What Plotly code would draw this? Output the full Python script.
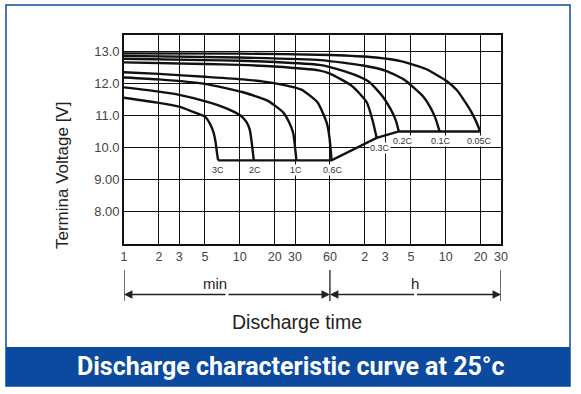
import math
import plotly.graph_objects as go

# ---------------- data ----------------
rate_labels = ["3C", "2C", "1C", "0.6C", "0.3C", "0.2C", "0.1C", "0.05C"]

# discharge time in minutes, terminal voltage in V
t_3C = [1, 2, 3, 3.94, 5.0, 5.5, 5.96, 6.2, 6.36, 6.5]
v_3C = [11.55, 11.39, 11.27, 11.11, 10.96, 10.75, 10.44, 10.13, 9.82, 9.6]

t_2C = [1, 2, 3, 5.15, 7.66, 10, 11.4, 12.2, 12.7, 13.2]
v_2C = [11.87, 11.74, 11.64, 11.43, 11.22, 11.01, 10.8, 10.55, 10.13, 9.6]

t_1C = [1, 2, 5, 10.7, 17.5, 23.6, 26.5, 28.9, 30.8]
v_1C = [12.18, 12.12, 11.98, 11.72, 11.45, 11.1, 10.8, 10.45, 9.6]

t_06C = [1, 2, 5, 10.7, 18.5, 34, 47, 56.5, 59.5, 62]
v_06C = [12.34, 12.29, 12.2, 12.12, 12.02, 11.8, 11.4, 10.75, 10.3, 9.6]

t_03C = [1, 5, 10, 20, 48, 60, 90, 110, 125, 140, 152]
v_03C = [12.65, 12.6, 12.57, 12.52, 12.4, 12.3, 11.95, 11.65, 11.4, 10.85, 10.3]

t_02C = [1, 5, 10, 20, 48.7, 60, 100, 133, 170, 200, 222, 236]
v_02C = [12.76, 12.72, 12.7, 12.66, 12.57, 12.5, 12.25, 12.02, 11.6, 11.2, 10.85, 10.5]

t_01C = [1, 10, 50, 116, 185, 260, 314, 380, 437, 490, 531]
v_01C = [12.85, 12.8, 12.72, 12.55, 12.38, 12.12, 11.88, 11.6, 11.28, 10.9, 10.5]

t_005C = [1, 10, 60, 150, 250, 400, 610, 750, 870, 1000, 1143, 1183]
v_005C = [12.93, 12.92, 12.88, 12.8, 12.68, 12.45, 12.07, 11.78, 11.45, 11.1, 10.66, 10.5]

curves_t = [t_3C, t_2C, t_1C, t_06C, t_03C, t_02C, t_01C, t_005C]
curves_v = [v_3C, v_2C, v_1C, v_06C, v_03C, v_02C, v_01C, v_005C]

x_tickvals = [1, 2, 3, 5, 10, 20, 30, 60, 120, 180, 300, 600, 1200, 1800]
x_ticktext = ["1", "2", "3", "5", "10", "20", "30", "60", "2", "3", "5", "10", "20", "30"]
y_tickvals = [8, 9, 10, 11, 12, 13]
y_ticktext = ["8.00", "9.00", "10.0", "11.0", "12.0", "13.0"]

unit_bounds = [1, 60, 1800]     # minutes: min-range | hour-range
unit_names = ["min", "h"]

title_text = "Discharge characteristic curve at 25°c"
x_title = "Discharge time"
y_title = "Termina Voltage [V]"

# ---------------- layout geometry ----------------
W, H = 581, 394
L, R, T, B = 124, 80, 35, 150
PW = W - L - R
PH = H - T - B
BLUE = "#0B4A9E"
FONT = "Liberation Sans, Arial, sans-serif"


def px(xp):
    return (xp - L) / PW


def py(yp):
    return (H - B - yp) / PH


fig = go.Figure()

for t, v in zip(curves_t, curves_v):
    fig.add_trace(go.Scatter(x=t, y=v, mode="lines",
                             line=dict(color="#111111", width=2.4, shape="spline", smoothing=0.5),
                             hoverinfo="skip"))

# cut-off line connecting end points of the curves
ends = sorted([(t[-1], v[-1]) for t, v in zip(curves_t, curves_v)])
fig.add_trace(go.Scatter(x=[e[0] for e in ends], y=[e[1] for e in ends], mode="lines",
                         line=dict(color="#111111", width=2.4), hoverinfo="skip"))

annotations = []
label_shift = {"3C": 0, "2C": 1, "1C": 0, "0.6C": 1, "0.3C": 3, "0.2C": 4, "0.1C": 1, "0.05C": 0}
for lab, t, v in zip(rate_labels, curves_t, curves_v):
    annotations.append(dict(x=math.log10(t[-1]), y=v[-1], xref="x", yref="y", text=lab,
                            showarrow=False, yshift=-10, xshift=label_shift[lab],
                            xanchor="center", yanchor="middle",
                            font=dict(family=FONT, size=9, color="#333333"),
                            bgcolor="white", borderpad=0))

# dimension arrows
dim_y = py(294.5)
for a, b in zip(unit_bounds[:-1], unit_bounds[1:]):
    la, lb = math.log10(a), math.log10(b)
    mid = (la + lb) / 2
    for end in (la, lb):
        annotations.append(dict(x=end, y=dim_y, ax=mid, ay=0, xref="x", yref="paper",
                                axref="x", ayref="pixel", text="", showarrow=True,
                                arrowhead=2, arrowsize=1.3, arrowwidth=1.3, arrowcolor="#222222"))

shapes = []
for bnd in unit_bounds:
    shapes.append(dict(type="line", xref="x", yref="paper", x0=bnd, x1=bnd,
                       y0=py(270), y1=py(301), line=dict(color="#222222", width=1.3)))


def label(xp, yp, text, size, angle=0, family=FONT, color="#222222"):
    annotations.append(dict(x=px(xp), y=py(yp), xref="paper", yref="paper", text=text,
                            xanchor="center", yanchor="middle", textangle=angle,
                            showarrow=False, font=dict(family=family, size=size, color=color)))


label(215, 283, unit_names[0], 15)
label(415, 283, unit_names[1], 15)
label(297, 322, x_title, 19.5)
label(62, 176, y_title, 17, angle=-90)

# card + title bar
shapes.append(dict(type="rect", xref="paper", yref="paper", x0=px(6), x1=px(570), y0=py(386), y1=py(347),
                   fillcolor=BLUE, line=dict(width=0), layer="below"))
shapes.append(dict(type="rect", xref="paper", yref="paper", x0=px(6), x1=px(570), y0=py(386), y1=py(5),
                   fillcolor="rgba(0,0,0,0)", line=dict(color=BLUE, width=1.5), layer="below"))
label(291, 367, "<b>" + title_text + "</b>", 25, family="Roboto, sans-serif", color="white")

fig.update_layout(
    width=W, height=H, margin=dict(l=L, r=R, t=T, b=B),
    paper_bgcolor="white", plot_bgcolor="white", showlegend=False,
    annotations=annotations, shapes=shapes,
    xaxis=dict(type="log", range=[0, math.log10(1800)], tickvals=x_tickvals, ticktext=x_ticktext,
               showgrid=True, gridcolor="#111111", gridwidth=1.4, showline=True, linecolor="#111111",
               linewidth=1.6, mirror=True, ticks="", zeroline=False,
               tickfont=dict(family=FONT, size=12.5, color="#444444")),
    yaxis=dict(range=[7, 13.5], tickvals=y_tickvals, ticktext=y_ticktext,
               showgrid=True, gridcolor="#111111", gridwidth=1.4, showline=True, linecolor="#111111",
               linewidth=1.6, mirror=True, ticks="", zeroline=False,
               tickfont=dict(family=FONT, size=13, color="#444444")),
)

fig.write_html("out.html", config={"displayModeBar": False},
               post_script="document.body.style.margin='0px';")
